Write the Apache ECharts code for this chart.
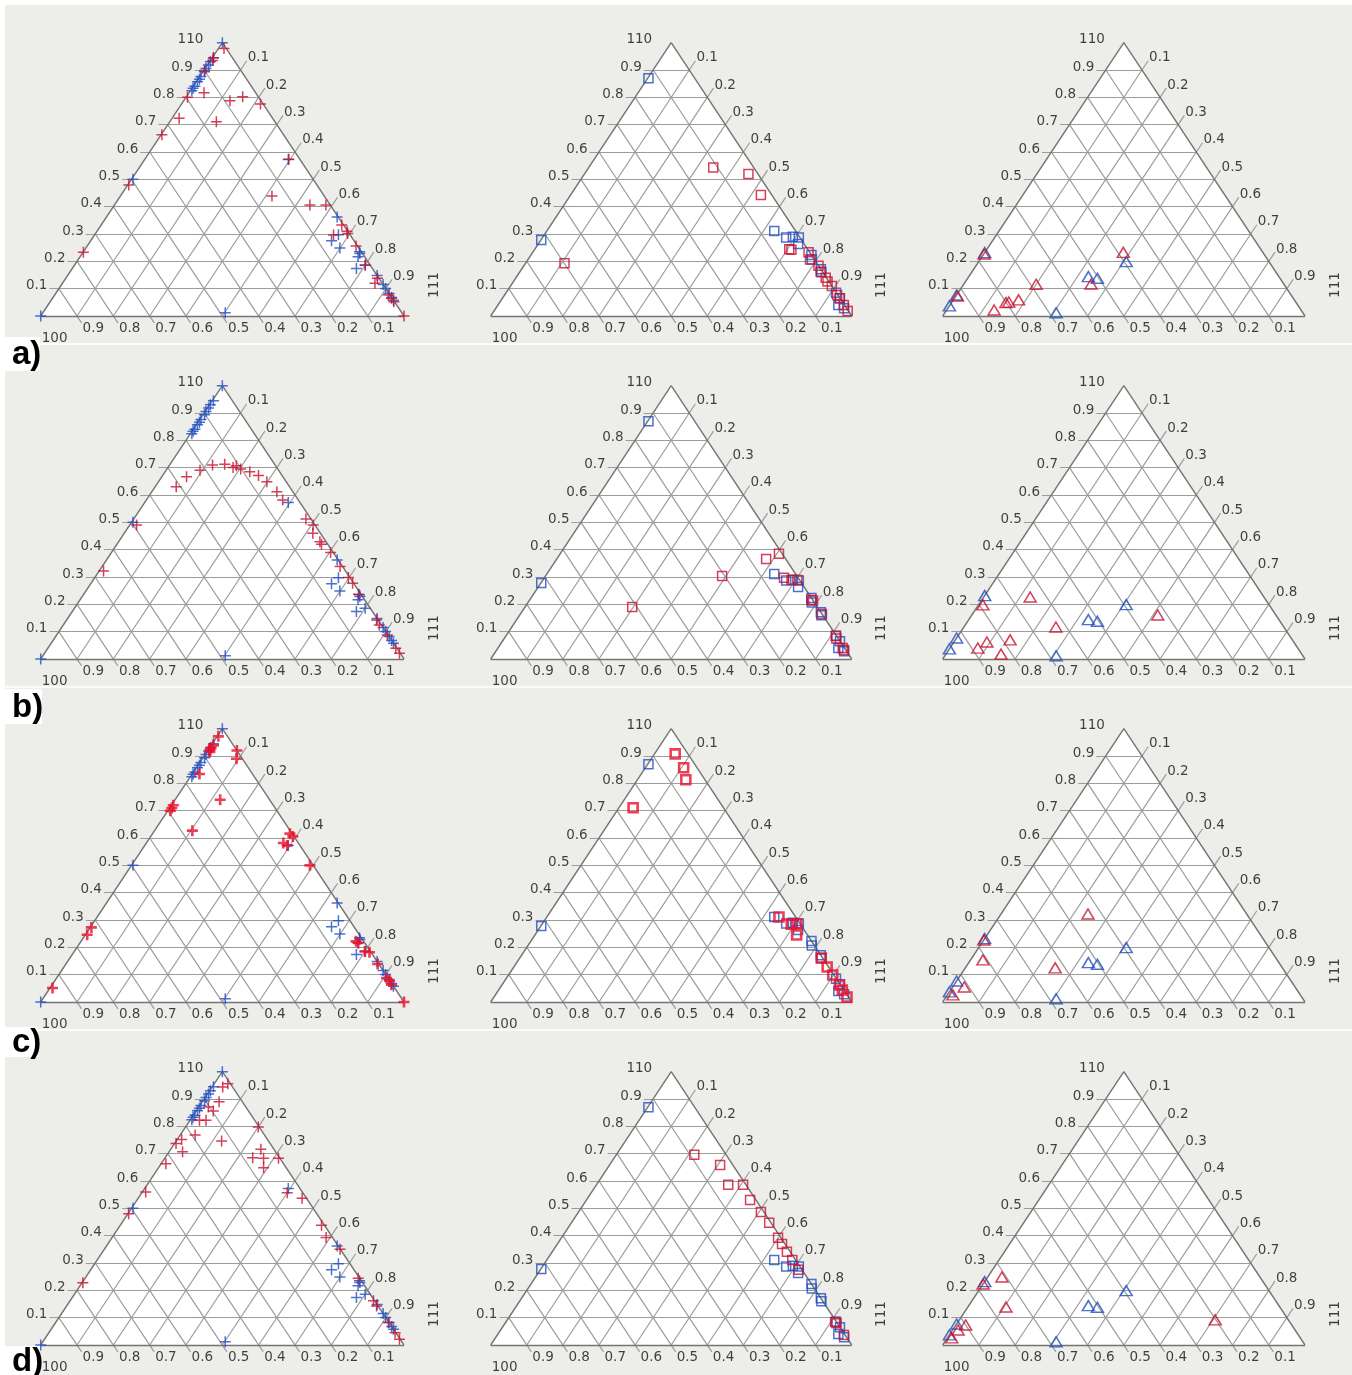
<!DOCTYPE html>
<html>
<head>
<meta charset="utf-8">
<title>Ternary diagrams</title>
<script src="https://cdn.jsdelivr.net/npm/echarts@6/dist/echarts.min.js"></script>
<style>
  html, body { margin: 0; padding: 0; background: #ededea; }
  #chart { width: 1352px; height: 1375px; }
</style>
</head>
<body>
<div id="chart"></div>
<script>
// Every point is stored as [fraction of 110, fraction of 111]; the 100 fraction is the remainder.
const TICKS = [0.1, 0.2, 0.3, 0.4, 0.5, 0.6, 0.7, 0.8, 0.9];
const TICK_LABELS = ['0.1', '0.2', '0.3', '0.4', '0.5', '0.6', '0.7', '0.8', '0.9'];
const VERTEX_LABELS = { left: '100', top: '110', right: '111' };
const ROW_LABELS = ['a)', 'b)', 'c)', 'd)'];

// Reference set, shown in blue in every row
const blueCross = [
  [1.000, 0.000], [0.945, 0.003], [0.930, 0.002], [0.918, 0.003], [0.906, 0.002], [0.894, 0.004],
  [0.876, 0.003], [0.866, 0.004], [0.857, 0.003], [0.841, 0.004], [0.833, 0.003], [0.824, 0.004],
  [0.500, 0.004], [0.573, 0.395],
  [0.362, 0.635], [0.297, 0.671], [0.275, 0.663], [0.249, 0.699], [0.235, 0.760], [0.229, 0.764],
  [0.217, 0.765], [0.174, 0.782], [0.186, 0.800], [0.148, 0.852], [0.115, 0.885], [0.101, 0.899],
  [0.082, 0.918], [0.068, 0.932], [0.058, 0.942],
  [0.012, 0.502], [0.000, 0.000]
];
const blueSquare = [
  [0.870, 0.002], [0.278, 0.001], [0.311, 0.630], [0.287, 0.675], [0.290, 0.692], [0.287, 0.710],
  [0.263, 0.720], [0.223, 0.777], [0.207, 0.786], [0.171, 0.829], [0.160, 0.836], [0.085, 0.914],
  [0.065, 0.935], [0.040, 0.943], [0.028, 0.965]
];
const blueTriangle = [
  [0.232, 0.000], [0.077, 0.000], [0.037, 0.000], [0.012, 0.307], [0.144, 0.330], [0.138, 0.358],
  [0.199, 0.407]
];

// Red sets, one per row
const redCrossA = [
  [0.979, 0.015], [0.945, 0.003], [0.935, 0.006], [0.898, 0.002], [0.817, 0.041], [0.800, 0.004],
  [0.788, 0.127], [0.802, 0.155], [0.776, 0.217], [0.724, 0.019], [0.711, 0.128], [0.663, 0.002],
  [0.574, 0.396], [0.479, 0.003], [0.439, 0.417], [0.406, 0.538], [0.406, 0.582], [0.333, 0.662],
  [0.302, 0.694], [0.310, 0.688], [0.296, 0.658], [0.256, 0.740], [0.187, 0.800], [0.138, 0.858],
  [0.120, 0.860], [0.077, 0.918], [0.065, 0.933], [0.052, 0.946], [0.000, 1.000], [0.233, 0.001]
];
const redCrossB = [
  [0.630, 0.058], [0.667, 0.068], [0.691, 0.093], [0.710, 0.118], [0.713, 0.150], [0.701, 0.179],
  [0.707, 0.185], [0.695, 0.203], [0.685, 0.233], [0.671, 0.264], [0.649, 0.298], [0.612, 0.344],
  [0.582, 0.375], [0.512, 0.474], [0.490, 0.505], [0.460, 0.519], [0.429, 0.554], [0.420, 0.563],
  [0.390, 0.603], [0.338, 0.655], [0.298, 0.698], [0.277, 0.720], [0.237, 0.756], [0.143, 0.853],
  [0.124, 0.870], [0.088, 0.910], [0.039, 0.958], [0.021, 0.977], [0.490, 0.019], [0.322, 0.012]
];
const redCrossC = [
  [0.972, 0.003], [0.939, 0.006], [0.930, 0.004], [0.922, 0.005], [0.915, 0.008], [0.920, 0.080],
  [0.890, 0.094], [0.834, 0.020], [0.740, 0.124], [0.720, 0.005], [0.710, 0.006], [0.700, 0.007],
  [0.627, 0.104], [0.616, 0.378], [0.606, 0.391], [0.582, 0.377], [0.573, 0.392], [0.500, 0.491],
  [0.222, 0.757], [0.216, 0.766], [0.185, 0.800], [0.182, 0.814], [0.139, 0.858], [0.088, 0.908],
  [0.078, 0.921], [0.063, 0.934], [0.000, 1.000], [0.273, 0.003], [0.246, 0.005], [0.051, 0.007]
];
const redCrossD = [
  [0.956, 0.037], [0.944, 0.029], [0.890, 0.046], [0.871, 0.026], [0.856, 0.047], [0.822, 0.026],
  [0.822, 0.044], [0.768, 0.041], [0.752, 0.012], [0.737, 0.004], [0.707, 0.037], [0.746, 0.125],
  [0.798, 0.200], [0.716, 0.248], [0.685, 0.241], [0.683, 0.272], [0.649, 0.289], [0.683, 0.313],
  [0.663, 0.013], [0.560, 0.009], [0.480, 0.002], [0.557, 0.400], [0.537, 0.451], [0.438, 0.554],
  [0.393, 0.589], [0.350, 0.649], [0.244, 0.752], [0.162, 0.835], [0.143, 0.853], [0.082, 0.916],
  [0.045, 0.953], [0.021, 0.977], [0.228, 0.002]
];
const redSquareA = [
  [0.543, 0.345], [0.520, 0.454], [0.443, 0.527], [0.193, 0.108], [0.244, 0.705], [0.242, 0.712],
  [0.233, 0.764], [0.207, 0.781], [0.184, 0.816], [0.162, 0.833], [0.140, 0.858], [0.126, 0.870],
  [0.110, 0.890], [0.077, 0.921], [0.065, 0.934], [0.040, 0.958], [0.018, 0.980]
];
const redSquareB = [
  [0.304, 0.489], [0.190, 0.297], [0.366, 0.580], [0.385, 0.606], [0.297, 0.664], [0.289, 0.689],
  [0.289, 0.705], [0.216, 0.780], [0.214, 0.786], [0.165, 0.835], [0.084, 0.914], [0.075, 0.920],
  [0.040, 0.955], [0.033, 0.962]
];
const redSquareC = [
  [0.908, 0.057], [0.857, 0.106], [0.813, 0.134], [0.711, 0.039], [0.311, 0.643], [0.286, 0.705],
  [0.245, 0.725], [0.285, 0.690], [0.161, 0.835], [0.128, 0.868], [0.099, 0.898], [0.062, 0.935],
  [0.044, 0.952], [0.018, 0.978]
];
const redSquareD = [
  [0.696, 0.216], [0.659, 0.306], [0.586, 0.365], [0.586, 0.406], [0.531, 0.453], [0.487, 0.505],
  [0.447, 0.548], [0.392, 0.600], [0.370, 0.622], [0.341, 0.650], [0.311, 0.680], [0.275, 0.715],
  [0.084, 0.912], [0.080, 0.918], [0.037, 0.960]
];
const redTriangleA = [
  [0.227, 0.001], [0.073, 0.004], [0.022, 0.131], [0.049, 0.150], [0.051, 0.157], [0.059, 0.180],
  [0.116, 0.200], [0.117, 0.351], [0.233, 0.382]
];
const redTriangleB = [
  [0.198, 0.012], [0.227, 0.128], [0.117, 0.254], [0.161, 0.513], [0.070, 0.151], [0.062, 0.091],
  [0.040, 0.077], [0.018, 0.152]
];
const redTriangleC = [
  [0.227, 0.000], [0.154, 0.034], [0.322, 0.240], [0.125, 0.248], [0.055, 0.032], [0.026, 0.015]
];
const redTriangleD = [
  [0.223, 0.000], [0.249, 0.039], [0.139, 0.105], [0.073, 0.027], [0.055, 0.015], [0.026, 0.012],
  [0.092, 0.706]
];

const redSets = [
  [redCrossA, redSquareA, redTriangleA],
  [redCrossB, redSquareB, redTriangleB],
  [redCrossC, redSquareC, redTriangleC],
  [redCrossD, redSquareD, redTriangleD]
];
const blueSets = [blueCross, blueSquare, blueTriangle];

// ---- layout and styling ----
const COL_LEFT = [40.7, 490.7, 942.7];
const COL_WIDTH = [363.3, 361, 362.3];
const ROW_TOP = [42.7, 385.7, 728.7, 1071.7];
const TRI_HEIGHT = 273.3;

const RED = '#c8102e';
const RED_BOLD = '#e8102a';
const BLUE = '#1f4fc0';
const GRID_COLOR = '#9c9c9c';
const EDGE_COLOR = '#747474';
const TEXT_COLOR = '#111111';
const TICK_FONT = 'DejaVu Sans';

const CROSS = 'path://M0,5L10,5M5,0L5,10';
const SYMBOLS = [CROSS, 'rect', 'triangle'];
const SYMBOL_SIZE = [11, 9, [12, 10]];

// [b, c] -> cartesian, triangle base on y = 0, apex at (0.5, 1)
function toXY(p) { return [p[1] + p[0] / 2, p[0]]; }

const grids = [], xAxes = [], yAxes = [], series = [];
const EXT_B = 0.026, EXT_C = 0.034, EXT_A = 0.025;

for (let r = 0; r < 4; r++) {
  for (let col = 0; col < 3; col++) {
    const idx = r * 3 + col;
    grids.push({ left: COL_LEFT[col], top: ROW_TOP[r], width: COL_WIDTH[col], height: TRI_HEIGHT });
    xAxes.push({ gridIndex: idx, type: 'value', min: 0, max: 1, show: false });
    yAxes.push({ gridIndex: idx, type: 'value', min: 0, max: 1, show: false });
    const ax = { xAxisIndex: idx, yAxisIndex: idx };

    // white triangle face
    series.push(Object.assign({
      type: 'custom', silent: true, clip: false, z: 1, data: [[0, 0]],
      renderItem: (params, api) => ({
        type: 'polygon',
        shape: { points: [api.coord([0, 0]), api.coord([1, 0]), api.coord([0.5, 1])] },
        style: { fill: '#ffffff' }
      })
    }, ax));

    // grid lines with their outer tick stubs
    const gridSegs = [];
    TICKS.forEach(t => {
      // constant 110 fraction (horizontal)
      gridSegs.push({ coords: [[t / 2 - EXT_B, t], [1 - t / 2, t]] });
      // constant 111 fraction (parallel to the left edge)
      const rx = t + (1 - t) / 2, ry = 1 - t;
      gridSegs.push({ coords: [[t, 0], [rx + EXT_C / 2, ry + EXT_C]] });
      // constant 100 fraction (parallel to the right edge)
      gridSegs.push({ coords: [[(1 - t) / 2, 1 - t], [1 - t + EXT_A / 2, -EXT_A]] });
    });
    series.push(Object.assign({
      type: 'lines', coordinateSystem: 'cartesian2d', silent: true, clip: false, z: 2,
      lineStyle: { color: GRID_COLOR, width: 1.2, opacity: 1 }, data: gridSegs
    }, ax));
    series.push(Object.assign({
      type: 'lines', coordinateSystem: 'cartesian2d', silent: true, clip: false, z: 3,
      lineStyle: { color: EDGE_COLOR, width: 1.4, opacity: 1 },
      data: [
        { coords: [[0, 0], [1, 0]] },
        { coords: [[1, 0], [0.5, 1]] },
        { coords: [[0.5, 1], [0, 0]] }
      ]
    }, ax));

    // tick labels
    const labelSeries = (data, label) => Object.assign({
      type: 'scatter', silent: true, clip: false, z: 4, symbolSize: 0,
      itemStyle: { color: 'transparent' },
      label: Object.assign({
        show: true, position: [0, 0], color: TEXT_COLOR, fontFamily: TICK_FONT, fontSize: 13.5,
        formatter: p => p.value[2]
      }, label),
      data
    }, ax);
    series.push(labelSeries(TICKS.map((t, i) => [t / 2 - EXT_B, t, TICK_LABELS[i]]),
      { align: 'right', verticalAlign: 'bottom', offset: [-2, 4] }));
    series.push(labelSeries(TICKS.map((t, i) => [t + (1 - t) / 2 + EXT_C / 2, 1 - t + EXT_C, TICK_LABELS[i]]),
      { align: 'left', verticalAlign: 'bottom', offset: [1, 4] }));
    series.push(labelSeries(TICKS.map((t, i) => [1 - t + EXT_A / 2, -EXT_A, TICK_LABELS[i]]),
      { align: 'left', verticalAlign: 'top', offset: [1, -1] }));
    series.push(labelSeries([[0.5, 1, VERTEX_LABELS.top]],
      { align: 'right', verticalAlign: 'bottom', offset: [-19, 4] }));
    series.push(labelSeries([[0, 0, VERTEX_LABELS.left]],
      { align: 'left', verticalAlign: 'bottom', offset: [1, 29] }));
    series.push(labelSeries([[1, 0, VERTEX_LABELS.right]],
      { align: 'center', verticalAlign: 'middle', rotate: 90, offset: [31, 30] }));

    // markers: blue reference below, red on top
    const bold = (r === 2 && col < 2);
    series.push(Object.assign({
      type: 'scatter', silent: true, clip: false, z: 5,
      symbol: SYMBOLS[col], symbolSize: SYMBOL_SIZE[col],
      itemStyle: { color: 'transparent', borderColor: BLUE, borderWidth: 1.5 },
      data: blueSets[col].map(toXY)
    }, ax));
    series.push(Object.assign({
      type: 'scatter', silent: true, clip: false, z: 6,
      symbol: SYMBOLS[col], symbolSize: SYMBOL_SIZE[col],
      itemStyle: { color: 'transparent', borderColor: bold ? RED_BOLD : RED, borderWidth: bold ? 2.6 : 1.5 },
      data: redSets[r][col].map(toXY)
    }, ax));
  }
}

// white frame strips, row separators and row letters
const graphics = [
  { type: 'rect', shape: { x: 0, y: 0, width: 1352, height: 5 }, style: { fill: '#ffffff' }, z: 0 },
  { type: 'rect', shape: { x: 0, y: 0, width: 5, height: 1375 }, style: { fill: '#ffffff' }, z: 0 },
  { type: 'rect', shape: { x: 5, y: 343.3, width: 1347, height: 1.5 }, style: { fill: '#ffffff' }, z: 0 },
  { type: 'rect', shape: { x: 5, y: 686.3, width: 1347, height: 1.5 }, style: { fill: '#ffffff' }, z: 0 },
  { type: 'rect', shape: { x: 5, y: 1029.3, width: 1347, height: 1.5 }, style: { fill: '#ffffff' }, z: 0 }
];
const LETTER_BOX = [
  { x: 5, y: 337, w: 35, h: 34 },
  { x: 5, y: 689, w: 37, h: 35 },
  { x: 5, y: 1027, w: 33, h: 30 },
  { x: 5, y: 1346, w: 35, h: 29 }
];
LETTER_BOX.forEach((b, i) => {
  graphics.push({ type: 'rect', shape: { x: b.x, y: b.y, width: b.w, height: b.h }, style: { fill: '#ffffff' }, z: 50 });
  graphics.push({
    type: 'text', x: b.x + 7, y: b.y + b.h / 2 + 1, z: 51,
    style: { text: ROW_LABELS[i], font: 'bold 33px "Liberation Sans"', fill: '#000000', textVerticalAlign: 'middle', verticalAlign: 'middle' }
  });
});

const chart = echarts.init(document.getElementById('chart'), null, { renderer: 'canvas' });
chart.setOption({
  animation: false,
  backgroundColor: '#ededea',
  grid: grids,
  xAxis: xAxes,
  yAxis: yAxes,
  graphic: graphics,
  series
});
</script>
</body>
</html>
